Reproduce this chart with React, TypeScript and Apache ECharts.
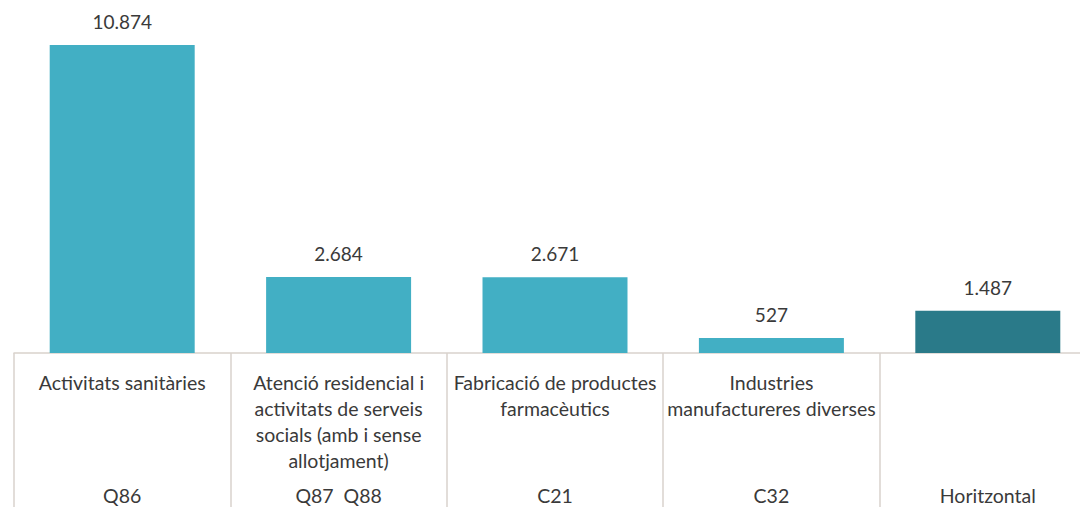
import React, { useEffect, useRef } from "react";
import * as echarts from "echarts";

const categories = [
  "Activitats sanitàries",
  "Atenció residencial i\nactivitats de serveis\nsocials (amb i sense\nallotjament)",
  "Fabricació de productes\nfarmacèutics",
  "Industries\nmanufactureres diverses",
  "",
];
const codes = ["Q86", "Q87  Q88", "C21", "C32", "Horitzontal"];
const values = [10874, 2684, 2671, 527, 1487];
const barColors = ["#42afc4", "#42afc4", "#42afc4", "#42afc4", "#2a7a89"];

const fmt = (v: number) => v.toString().replace(/\B(?=(\d{3})+(?!\d))/g, ".");

export default function App() {
  const ref = useRef<HTMLDivElement>(null);
  useEffect(() => {
    const chart = echarts.init(ref.current!, null, { renderer: "svg" });
    const font = "Lato, 'Open Sans', sans-serif";
    chart.setOption({
      animation: false,
      grid: { left: 14, top: 13, width: 1082, height: 340, outerBoundsMode: "none", containLabel: false },
      xAxis: [
        {
          type: "category",
          data: categories,
          position: "bottom",
          axisLine: { show: true, lineStyle: { color: "#d9d2cc", width: 1.5 } },
          axisTick: { show: true, length: 160, lineStyle: { color: "#d9d2cc", width: 1.5 } },
          axisLabel: {
            interval: 0,
            margin: 16,
            color: "#3a3a3a",
            fontFamily: font,
            fontSize: 19.5,
            lineHeight: 26,
            verticalAlign: "top",
          },
        },
        {
          type: "category",
          data: codes,
          position: "bottom",
          axisLine: { show: false },
          axisTick: { show: false },
          axisLabel: {
            interval: 0,
            margin: 132,
            color: "#3a3a3a",
            fontFamily: font,
            fontSize: 19.5,
            lineHeight: 20,
            verticalAlign: "top",
          },
        },
      ],
      yAxis: {
        type: "value",
        min: 0,
        max: 12000,
        show: false,
        splitLine: { show: false },
      },
      series: [
        {
          type: "bar",
          xAxisIndex: 0,
          barWidth: "67%",
          data: values.map((v, i) => ({ value: v, itemStyle: { color: barColors[i] } })),
          label: {
            show: true,
            position: "top",
            distance: 14,
            color: "#3a3a3a",
            fontFamily: font,
            fontSize: 19,
            formatter: (p: any) => fmt(p.value),
          },
        },
      ],
    });
    return () => chart.dispose();
  }, []);
  return (
    <div
      ref={ref}
      style={{ position: "fixed", left: 0, top: 0, width: 1080, height: 507, background: "#fff" }}
    />
  );
}
